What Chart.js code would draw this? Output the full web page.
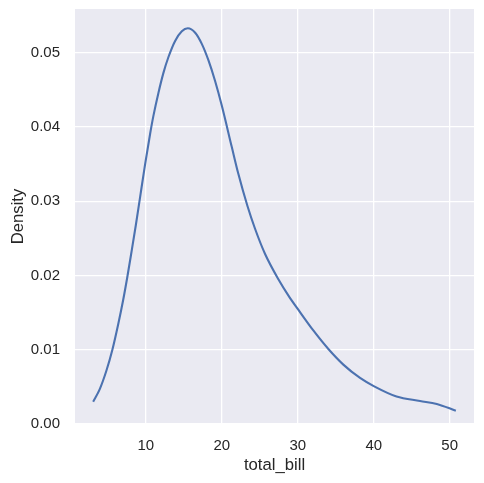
<!DOCTYPE html>
<html>
<head>
<meta charset="utf-8">
<script src="https://cdn.jsdelivr.net/npm/chart.js@4"></script>
<style>
  html, body { margin: 0; padding: 0; background: #ffffff; }
  #wrap { width: 484px; height: 483px; }
</style>
</head>
<body>
<div id="wrap"><canvas id="c" width="484" height="483"></canvas></div>
<script>
const totalBill = [3.07, 3.94, 4.82, 5.6, 6.36, 7.02, 7.55, 8.12, 8.69, 9.21, 9.91, 10.57, 11.0, 11.66, 12.32, 12.97, 13.86, 14.74, 15.53, 16.5, 17.37, 18.24, 19.12, 20.0, 21.32, 22.18, 23.37, 24.38, 25.7, 27.45, 28.84, 30.0, 32.05, 34.03, 36.0, 38.2, 40.0, 43.0, 46.1, 48.3, 50.81];
const density = [0.0030, 0.0047, 0.0072, 0.0100, 0.0134, 0.0167, 0.0197, 0.0232, 0.0268, 0.0303, 0.0350, 0.0391, 0.0415, 0.0446, 0.0473, 0.0494, 0.0516, 0.0529, 0.0533, 0.0527, 0.0512, 0.0490, 0.0462, 0.0429, 0.0373, 0.0337, 0.0294, 0.0263, 0.0229, 0.0195, 0.0172, 0.0155, 0.0126, 0.0101, 0.0080, 0.0062, 0.0051, 0.0037, 0.0031, 0.0027, 0.0018];
const xTicks = [10, 20, 30, 40, 50];
const yTicks = [0.00, 0.01, 0.02, 0.03, 0.04, 0.05];
const xLabel = 'total_bill';
const yLabel = 'Density';

const points = totalBill.map((x, i) => ({ x: x, y: density[i] }));
const textColor = '#262626';
const fontFamily = '"Liberation Sans", Arial, sans-serif';

const bgPlugin = {
  id: 'bg',
  beforeDraw(chart) {
    const a = chart.chartArea;
    const ctx = chart.ctx;
    ctx.save();
    ctx.fillStyle = '#eaeaf2';
    ctx.fillRect(a.left, a.top, a.right - a.left, a.bottom - a.top);
    ctx.restore();
  }
};

new Chart(document.getElementById('c'), {
  type: 'scatter',
  data: {
    datasets: [{
      data: points,
      showLine: true,
      borderColor: '#4c72b0',
      borderWidth: 2.1,
      pointRadius: 0,
      pointHoverRadius: 0,
      fill: false,
      cubicInterpolationMode: 'monotone'
    }]
  },
  options: {
    responsive: false,
    animation: false,
    devicePixelRatio: 1,
    layout: { padding: { top: 9, right: 10, left: 0, bottom: 0 } },
    plugins: { legend: { display: false }, tooltip: { enabled: false } },
    scales: {
      x: {
        type: 'linear',
        min: 0.68,
        max: 53.2,
        afterBuildTicks(scale) { scale.ticks = xTicks.map(v => ({ value: v })); },
        afterFit(scale) { scale.height = 59; scale.paddingLeft = 0; scale.paddingRight = 0; },
        grid: { color: '#ffffff', lineWidth: 1.3, drawTicks: false },
        border: { display: false },
        ticks: {
          color: textColor,
          padding: 13,
          font: { family: fontFamily, size: 15 },
          maxRotation: 0,
          callback: v => String(v)
        },
        title: {
          display: true,
          text: xLabel,
          color: textColor,
          font: { family: fontFamily, size: 16.7 },
          padding: { top: 0, bottom: 8 }
        }
      },
      y: {
        type: 'linear',
        min: 0,
        max: 0.0559,
        afterBuildTicks(scale) { scale.ticks = yTicks.map(v => ({ value: v })); },
        afterFit(scale) { scale.width = 75; scale.paddingTop = 0; scale.paddingBottom = 0; },
        grid: { color: '#ffffff', lineWidth: 1.3, drawTicks: false },
        border: { display: false },
        ticks: {
          color: textColor,
          padding: 15,
          font: { family: fontFamily, size: 15 },
          callback: v => v.toFixed(2)
        },
        title: {
          display: true,
          text: yLabel,
          color: textColor,
          font: { family: fontFamily, size: 16.7 },
          padding: { top: 8, bottom: 0 }
        }
      }
    }
  },
  plugins: [bgPlugin]
});
</script>
</body>
</html>
